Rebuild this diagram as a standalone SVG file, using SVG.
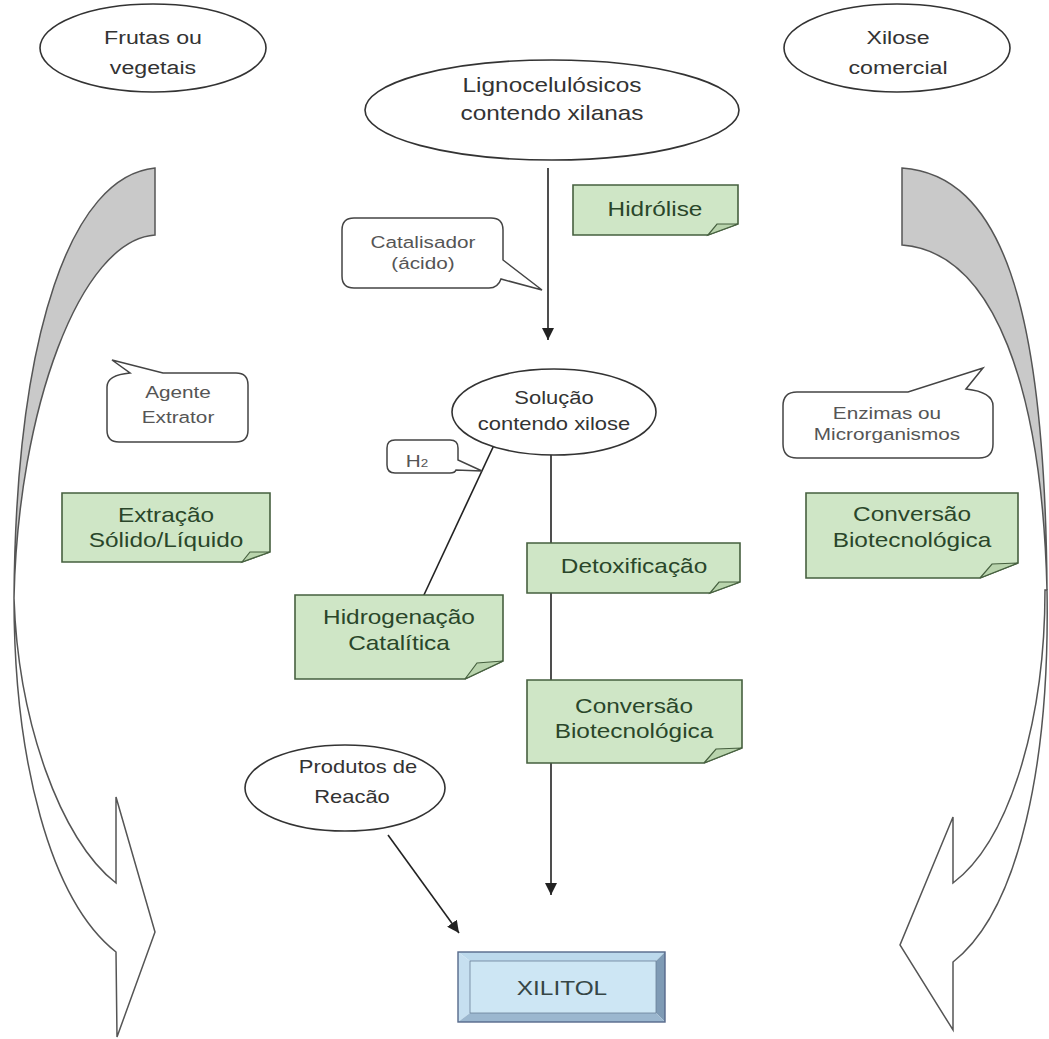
<svg xmlns="http://www.w3.org/2000/svg" width="1049" height="1039" viewBox="0 0 1049 1039">
<defs>
<style>
.ell{fill:#fff;stroke:#333;stroke-width:1.6}
.et{font-family:"Liberation Sans",Arial,sans-serif;font-size:19px;fill:#333;text-anchor:middle}
.note{fill:#cfe6c6;stroke:#46603f;stroke-width:1.6}
.fold{fill:#b9d4ad;stroke:#46603f;stroke-width:1.2}
.nt{font-family:"Liberation Sans",Arial,sans-serif;font-size:20px;fill:#2a462a;text-anchor:middle}
.call{fill:#fff;stroke:#444;stroke-width:1.5}
.ct{font-family:"Liberation Sans",Arial,sans-serif;font-size:17px;fill:#555;text-anchor:middle}
.conn{stroke:#222;stroke-width:1.6;fill:none}
.rib{fill:#c9c9c9;stroke:#555;stroke-width:1.5}
.ribw{fill:#fff;stroke:#555;stroke-width:1.5}
</style>
<marker id="ah" viewBox="0 0 12 12" refX="12" refY="6" markerWidth="12" markerHeight="12" markerUnits="userSpaceOnUse" orient="auto">
<path d="M0,0 L12,6 L0,12 z" fill="#222"/>
</marker>
</defs>
<rect width="1049" height="1039" fill="#fff"/>

<g id="left-ribbon">
<path class="ribw" d="M14,598 C14,760 50,900 116,952 L117,1037 L155,932 L116,797 L116,883 C60,840 18,720 14,598 Z"/>
<path class="rib" d="M155,168 C72,176 16,330 14,598 C18,410 80,240 155,235 Z"/>
</g>
<g id="right-ribbon">
<path class="ribw" d="M1047,590 C1050,760 1020,910 953,962 L953,1030 L900,945 L953,817 L953,883 C1010,840 1045,720 1045,590 Z"/>
<path class="rib" d="M902,168 C1000,175 1045,300 1047,590 C1042,390 995,252 902,245 Z"/>
</g>

<g id="connectors">
<line class="conn" x1="548" y1="168" x2="548" y2="340" marker-end="url(#ah)"/>
<line class="conn" x1="551" y1="436" x2="551" y2="895" marker-end="url(#ah)"/>
<line class="conn" x1="388" y1="835" x2="459" y2="933" marker-end="url(#ah)"/>
<line class="conn" x1="502" y1="428" x2="423" y2="597"/>
</g>

<g id="frutas">
<ellipse class="ell" cx="153" cy="48" rx="113" ry="44"/>
<text class="et" transform="translate(153,44) scale(1.22,1)">Frutas ou</text>
<text class="et" transform="translate(153,74) scale(1.22,1)">vegetais</text>
</g>
<g id="xilose">
<ellipse class="ell" cx="897" cy="48" rx="113" ry="44"/>
<text class="et" transform="translate(898,44) scale(1.22,1)">Xilose</text>
<text class="et" transform="translate(898,74) scale(1.22,1)">comercial</text>
</g>
<g id="ligno">
<ellipse class="ell" cx="552" cy="110" rx="187" ry="50"/>
<text class="et" style="font-size:20px" transform="translate(552,92) scale(1.22,1)">Lignocelulósicos</text>
<text class="et" style="font-size:20px" transform="translate(552,120) scale(1.22,1)">contendo xilanas</text>
</g>

<g id="hidrolise">
<path class="note" d="M573,185 H738 V224 L708,235 H573 Z"/>
<path class="fold" d="M708,235 L717,224 L738,224 Z"/>
<text class="nt" transform="translate(655,216) scale(1.22,1)">Hidrólise</text>
</g>

<g id="catalisador">
<path class="call" d="M354,218 H491 Q503,218 503,230 V260 L542,290 L501,279 Q498,288 489,288 H354 Q342,288 342,276 V230 Q342,218 354,218 Z"/>
<text class="ct" transform="translate(423,248) scale(1.22,1)">Catalisador</text>
<text class="ct" transform="translate(423,269) scale(1.22,1)">(ácido)</text>
</g>

<g id="agente">
<path class="call" d="M163,373 H236 Q248,373 248,385 V430 Q248,442 236,442 H119 Q107,442 107,430 V387 Q107,375 130,373 L112,360 Z"/>
<text class="ct" transform="translate(178,398) scale(1.22,1)">Agente</text>
<text class="ct" transform="translate(178,423) scale(1.22,1)">Extrator</text>
</g>

<g id="solucao">
<ellipse class="ell" cx="554" cy="412" rx="102" ry="43"/>
<text class="et" style="font-size:18px" transform="translate(554,404) scale(1.22,1)">Solução</text>
<text class="et" style="font-size:18px" transform="translate(554,430) scale(1.22,1)">contendo xilose</text>
</g>

<g id="enzimas">
<path class="call" d="M797,392 H908 L983,368 L966,389 Q993,392 993,406 V444 Q993,458 979,458 H797 Q783,458 783,444 V406 Q783,392 797,392 Z"/>
<text class="ct" transform="translate(887,419) scale(1.22,1)">Enzimas ou</text>
<text class="ct" transform="translate(887,440) scale(1.22,1)">Microrganismos</text>
</g>

<g id="h2">
<path class="call" d="M395,440 H450 Q458,440 458,448 V460 L482,471 L456,470 Q455,473 450,473 H395 Q387,473 387,465 V448 Q387,440 395,440 Z"/>
<text class="ct" style="font-size:17px" transform="translate(417,467) scale(1.22,1)">H<tspan style="font-size:11px">2</tspan></text>
</g>

<g id="extracao">
<path class="note" d="M62,493 H270 V552 L242,562 H62 Z"/>
<path class="fold" d="M242,562 L250,552 L270,552 Z"/>
<text class="nt" transform="translate(166,522) scale(1.22,1)">Extração</text>
<text class="nt" transform="translate(166,547) scale(1.22,1)">Sólido/Líquido</text>
</g>

<g id="conversao-dir">
<path class="note" d="M806,493 H1018 V563 L980,578 H806 Z"/>
<path class="fold" d="M980,578 L992,564 L1018,563 Z"/>
<text class="nt" transform="translate(912,521) scale(1.22,1)">Conversão</text>
<text class="nt" transform="translate(912,547) scale(1.22,1)">Biotecnológica</text>
</g>

<g id="detox">
<path class="note" d="M527,543 H740 V582 L710,593 H527 Z"/>
<path class="fold" d="M710,593 L719,582 L740,582 Z"/>
<text class="nt" transform="translate(634,573) scale(1.22,1)">Detoxificação</text>
</g>

<g id="hidrogenacao">
<path class="note" d="M295,595 H503 V661 L465,679 H295 Z"/>
<path class="fold" d="M465,679 L477,663 L503,661 Z"/>
<text class="nt" transform="translate(399,624) scale(1.22,1)">Hidrogenação</text>
<text class="nt" transform="translate(399,650) scale(1.22,1)">Catalítica</text>
</g>

<g id="conversao-centro">
<path class="note" d="M527,680 H742 V748 L704,763 H527 Z"/>
<path class="fold" d="M704,763 L716,749 L742,748 Z"/>
<text class="nt" transform="translate(634,713) scale(1.22,1)">Conversão</text>
<text class="nt" transform="translate(634,738) scale(1.22,1)">Biotecnológica</text>
</g>

<g id="produtos">
<ellipse class="ell" cx="345" cy="788" rx="100" ry="43"/>
<text class="et" style="font-size:18px" transform="translate(358,773) scale(1.22,1)">Produtos de</text>
<text class="et" style="font-size:18px" transform="translate(352,803) scale(1.22,1)">Reacão</text>
</g>

<g id="xilitol">
<polygon points="458,952 665,952 656,961 470,961" fill="#bcd9ec"/>
<polygon points="458,952 470,961 470,1013 458,1022" fill="#c6dff0"/>
<polygon points="665,952 665,1022 656,1013 656,961" fill="#7f9bb5"/>
<polygon points="458,1022 665,1022 656,1013 470,1013" fill="#9bb7cf"/>
<rect x="470" y="961" width="186" height="52" fill="#cde6f4" stroke="#6a7f98" stroke-width="0.8"/>
<rect x="458" y="952" width="207" height="70" fill="none" stroke="#56698a" stroke-width="1.4"/>
<text class="et" style="font-size:20px;fill:#364646" transform="translate(562,995) scale(1.22,1)">XILITOL</text>
</g>
</svg>
